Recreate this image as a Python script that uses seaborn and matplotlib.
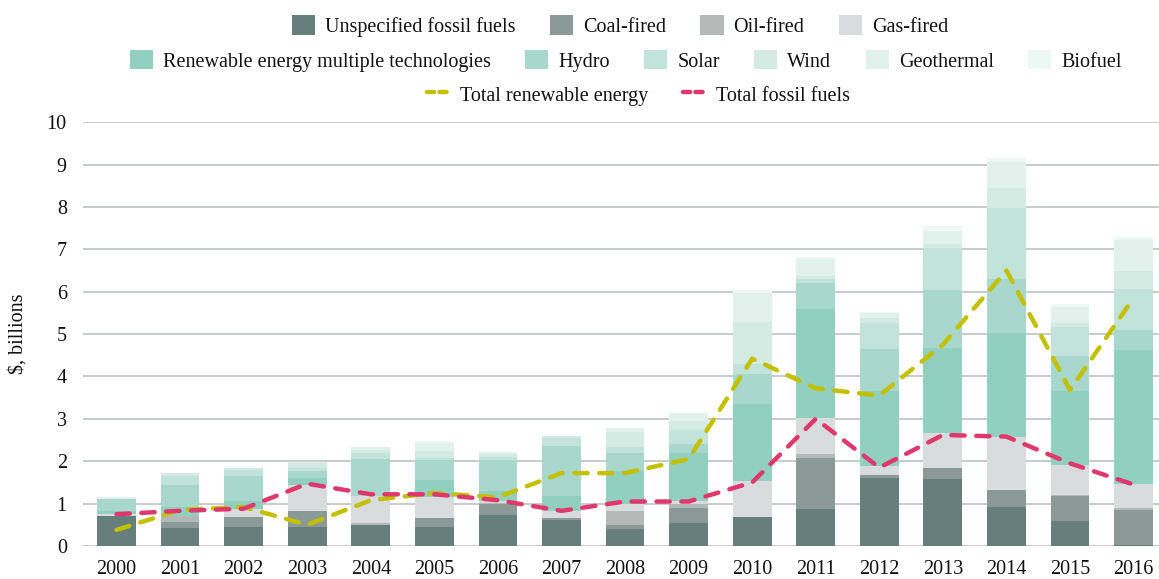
import numpy as np
import pandas as pd
import matplotlib
matplotlib.use("Agg")
import matplotlib.pyplot as plt
import seaborn as sns
from matplotlib.patches import Patch
from matplotlib.lines import Line2D

# Datos ($, miles de millones)
years = [str(y) for y in range(2000, 2017)]

unspecified = [0.71, 0.43, 0.46, 0.46, 0.50, 0.46, 0.73, 0.61, 0.40, 0.55, 0.69, 0.88, 1.61, 1.58, 0.93, 0.60, 0.03]
coal = [0.00, 0.14, 0.23, 0.37, 0.00, 0.21, 0.25, 0.04, 0.10, 0.35, 0.00, 1.20, 0.06, 0.27, 0.39, 0.58, 0.82]
oil = [0.00, 0.14, 0.00, 0.00, 0.04, 0.00, 0.04, 0.00, 0.33, 0.09, 0.00, 0.09, 0.00, 0.00, 0.00, 0.03, 0.05]
gas = [0.04, 0.00, 0.18, 0.61, 0.64, 0.49, 0.04, 0.18, 0.16, 0.06, 0.85, 0.86, 0.22, 0.81, 1.26, 0.71, 0.56]
re_multi = [0.07, 0.20, 0.18, 0.17, 0.00, 0.40, 0.24, 0.35, 0.79, 1.15, 1.81, 2.56, 1.77, 2.02, 2.45, 1.74, 3.16]
hydro = [0.28, 0.53, 0.60, 0.16, 0.87, 0.47, 0.73, 1.18, 0.42, 0.21, 0.71, 0.62, 0.99, 1.36, 1.27, 0.82, 0.47]
solar = [0.00, 0.22, 0.14, 0.06, 0.14, 0.04, 0.06, 0.18, 0.14, 0.33, 0.23, 0.09, 0.62, 1.00, 1.67, 0.69, 0.97]
wind = [0.00, 0.06, 0.04, 0.12, 0.07, 0.18, 0.08, 0.06, 0.34, 0.22, 1.00, 0.07, 0.12, 0.08, 0.47, 0.10, 0.43]
geothermal = [0.05, 0.00, 0.00, 0.04, 0.07, 0.17, 0.05, 0.00, 0.10, 0.17, 0.68, 0.39, 0.10, 0.31, 0.62, 0.37, 0.73]
biofuel = [0.00, 0.00, 0.00, 0.00, 0.00, 0.06, 0.00, 0.00, 0.00, 0.00, 0.07, 0.06, 0.02, 0.11, 0.09, 0.07, 0.06]

total_renewable = [0.38, 0.85, 0.92, 0.50, 1.08, 1.25, 1.15, 1.72, 1.72, 2.05, 4.42, 3.72, 3.55, 4.75, 6.50, 3.68, 5.85]
total_fossil = [0.75, 0.83, 0.88, 1.47, 1.22, 1.22, 1.08, 0.83, 1.05, 1.05, 1.50, 3.00, 1.85, 2.62, 2.58, 1.95, 1.45]

series = [
    ("Unspecified fossil fuels", unspecified, "#667f7a"),
    ("Coal-fired", coal, "#8b9a97"),
    ("Oil-fired", oil, "#b2b9b7"),
    ("Gas-fired", gas, "#d9dcdc"),
    ("Renewable energy multiple technologies", re_multi, "#91cfbf"),
    ("Hydro", hydro, "#a7d8cb"),
    ("Solar", solar, "#c2e3da"),
    ("Wind", wind, "#d4ebe4"),
    ("Geothermal", geothermal, "#e1f1ec"),
    ("Biofuel", biofuel, "#edf7f4"),
]

sns.set_theme(style="white")
plt.rcParams["font.family"] = ["Liberation Serif", "DejaVu Serif"]

fig = plt.figure(figsize=(11.59, 5.79), dpi=100)
ax = fig.add_axes([0.072, 0.057, 0.928, 0.732])

# Barras apiladas: se dibujan los acumulados de arriba hacia abajo
cumul = np.cumsum(np.array([s[1] for s in series]), axis=0)
for i in range(len(series) - 1, -1, -1):
    df = pd.DataFrame({"year": years, "value": cumul[i]})
    sns.barplot(data=df, x="year", y="value", color=series[i][2], saturation=1,
                width=0.61, ax=ax, linewidth=0, errorbar=None)

xpos = np.arange(len(years))
sns.lineplot(x=xpos, y=total_renewable, ax=ax, color="#c3c000", lw=3.2,
             linestyle=(0, (3, 2.6)), dash_capstyle="round")
sns.lineplot(x=xpos, y=total_fossil, ax=ax, color="#e0386c", lw=3.2,
             linestyle=(0, (3, 2.6)), dash_capstyle="round")

ax.set_xlim(-0.52, 16.4)
ax.set_ylim(0, 10)
ax.set_yticks(range(0, 11))
ax.yaxis.grid(True, color="#c6cbcb", lw=1.4)
ax.set_axisbelow(True)
for sp in ax.spines.values():
    sp.set_visible(False)
ax.tick_params(axis="both", length=0, labelsize=14.5, colors="#111111")
ax.tick_params(axis="x", pad=10)
ax.tick_params(axis="y", pad=12)
ax.set_xlabel("")
ax.set_ylabel("$, billions", fontsize=14.5, labelpad=14, color="#111111")

# Leyenda en tres filas
def patches(items):
    return [Patch(facecolor=c, edgecolor="none", label=n) for n, _, c in items]

leg_kw = dict(frameon=False, fontsize=14.5, handlelength=1.15, handleheight=1.1,
              handletextpad=0.5, columnspacing=1.7, loc="center", labelcolor="#111111")
l1 = fig.legend(handles=patches(series[:4]), ncol=4, bbox_to_anchor=(0.535, 0.955), **leg_kw)
l2 = fig.legend(handles=patches(series[4:]), ncol=6, bbox_to_anchor=(0.54, 0.895), **leg_kw)
line_handles = [
    Line2D([], [], color="#c3c000", lw=3.2, linestyle=(0, (1.6, 1.2)), dash_capstyle="round",
           label="Total renewable energy"),
    Line2D([], [], color="#e0386c", lw=3.2, linestyle=(0, (1.6, 1.2)), dash_capstyle="round",
           label="Total fossil fuels"),
]
l3 = fig.legend(handles=line_handles, ncol=2, bbox_to_anchor=(0.551, 0.836), **leg_kw)

fig.savefig("out.png", dpi=100, facecolor="white")
